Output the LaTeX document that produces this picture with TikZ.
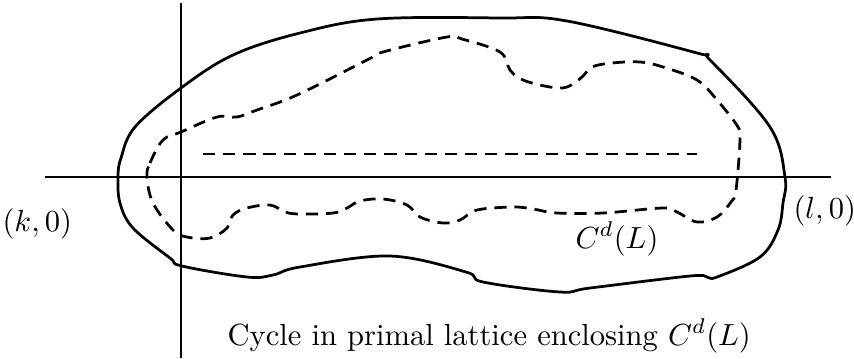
\documentclass[tikz,border=0pt]{standalone}
\usepackage{amsmath}
\usepackage{amssymb}
\usepackage{tikz}
\usetikzlibrary{calc}

\tikzset{
  outercycle/.style={line width=0.9pt, line join=round},
  dualcycle/.style={line width=0.9pt, dash pattern=on 4pt off 2.6pt, line join=round},
  axisline/.style={line width=0.6pt},
  labeltext/.style={inner sep=0pt, anchor=base west}
}

\begin{document}
\begin{tikzpicture}[x=0.3275pt, y=-0.3275pt]
    \useasboundingbox (0,0) rectangle (854,358);

    % Axes
    \coordinate (hleft) at (45,177);
    \coordinate (hright) at (831,177);
    \coordinate (vtop) at (181,3);
    \coordinate (vbot) at (181,358);
    \draw[axisline] (hleft) -- (hright);
    \draw[line width=0.4pt] (vtop) -- (vbot);

    % Cycle in primal lattice (solid)
    \draw[outercycle] plot[smooth cycle, tension=0.6] coordinates {
      (118,177) (121,158) (135,127) (181,88) (233,55) (300,33) (377,19)
      (500,18) (567,21) (697,53) (710,60) (770,127) (785,177) (783,203)
      (778,230) (760,257) (717,277) (707,277) (690,276) (590,288)
      (560,292) (483,282) (466,272) (390,256) (300,267) (273,275)
      (247,277) (182,266) (170,258) (133,228) (120,203)};

    % Dual cycle C^d(L) (dashed)
    \draw[dualcycle] plot[smooth cycle, tension=0.6] coordinates {
      (147,177) (150,163) (163,140) (181,132) (217,117) (237,117)
      (257,110) (297,95) (367,60) (383,52) (447,37) (462,39) (500,52)
      (510,70) (523,80) (550,87) (567,87) (582,77) (592,67) (612,63)
      (640,62) (663,67) (697,80) (717,100) (738,127) (740,140) (736,190)
      (731,202) (717,217) (697,222) (677,212) (663,208) (603,213)
      (557,213) (533,209) (513,207) (477,210) (460,220) (443,223)
      (420,217) (407,205) (383,199) (360,201) (347,208) (333,213)
      (300,214) (285,212) (270,205) (247,208) (233,215) (227,228)
      (210,238) (187,237) (173,230) (153,203)};

    % Dashed segment inside
    \coordinate (segl) at (203,154);
    \coordinate (segr) at (697,154);
    \draw[dualcycle] (segl) -- (segr);

    % Labels
    \node[labeltext] (klab) at (2,231) {$(k,0)$};
    \node[labeltext] (llab) at (793,218) {$(l,0)$};
    \node[labeltext] (cdlab) at (575,248) {$C^d(L)$};
    \node[labeltext] (caption) at (227,345) {Cycle in primal lattice enclosing $C^d(L)$};
\end{tikzpicture}
\end{document}
